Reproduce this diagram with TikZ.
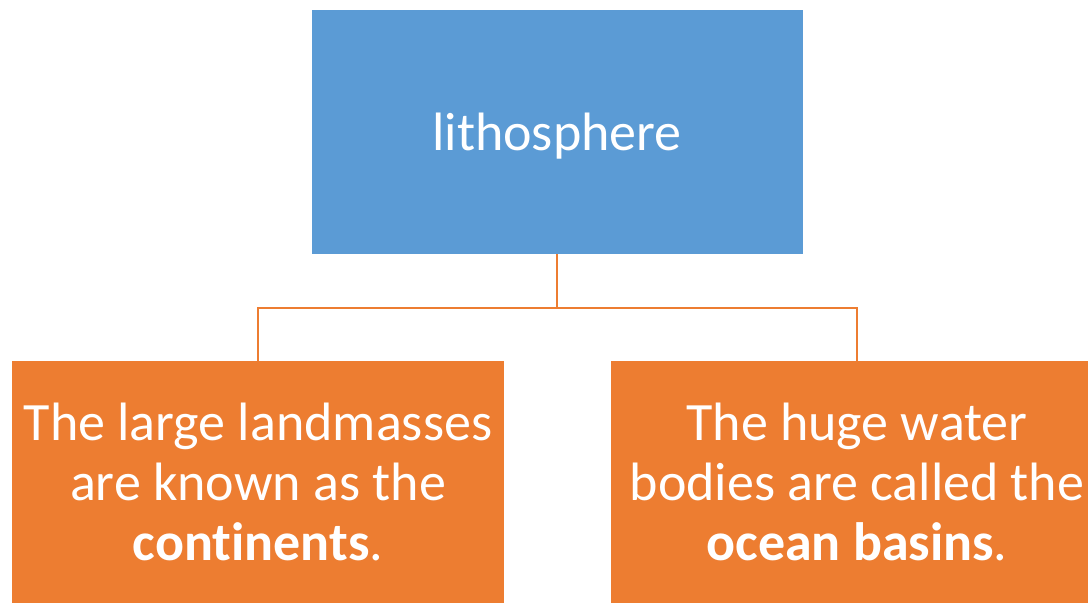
\documentclass[tikz,border=0pt]{standalone}
\usepackage{fontspec}
\setmainfont{Carlito}[Ligatures=NoCommon]
\usetikzlibrary{calc}
\definecolor{blueb}{HTML}{5B9BD5}
\definecolor{orangeb}{HTML}{ED7D31}
\begin{document}
\begin{tikzpicture}[x=1pt,y=-1pt,
  box/.style={rectangle, inner sep=0pt, text=white, align=center,
    font=\fontsize{54}{60}\selectfont},
  link/.style={draw=orangeb, line width=1.5pt}]
\useasboundingbox (0,0) rectangle (1088,603);
\clip (0,0) rectangle (1088,603);
\fill[white] (0,0) rectangle (1088,603);
\node[box, fill=blueb, minimum width=491pt, minimum height=244pt] (top) at (557,132) {\raisebox{-4pt}[\height][\depth]{lithosphere}};
\node[box, fill=orangeb, minimum width=492pt, minimum height=242pt] (left) at (258,482) {The large landmasses\\are known as the\\\textbf{continents}.};
\node[box, fill=orangeb, minimum width=492pt, minimum height=242pt] (right) at (857,482) {The huge water\\bodies are called the\\\textbf{ocean basins}.};
\coordinate (mid) at ($(top.south)+(0,54)$);
\draw[link] (top.south) -- (mid) -| (left.north);
\draw[link] (mid) -| (right.north);
\end{tikzpicture}
\end{document}
